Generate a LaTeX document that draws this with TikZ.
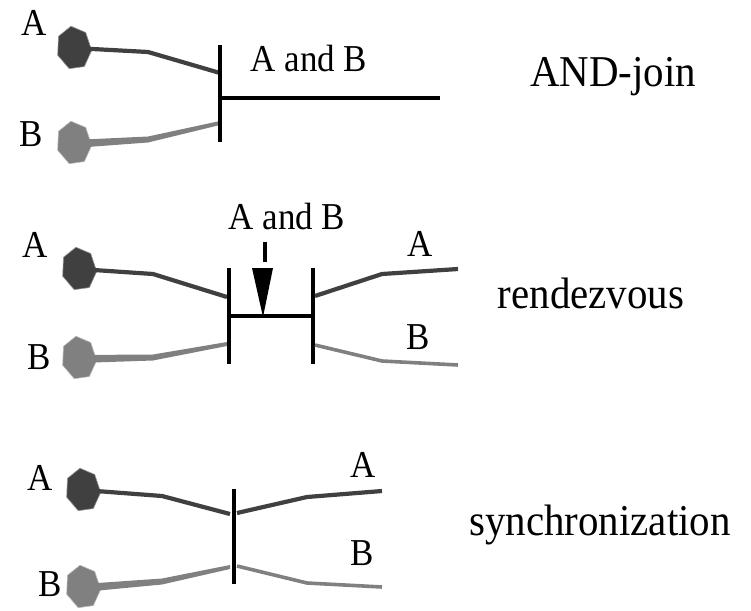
\documentclass[tikz,border=0pt]{standalone}
\usepackage{fontspec}
\setmainfont{Liberation Serif}
\newfontfamily\lblfont[FakeStretch=0.92]{Liberation Serif}
\newfontfamily\condfont[FakeStretch=0.93]{Liberation Serif}
\usetikzlibrary{shapes.geometric,calc}
\definecolor{da}{HTML}{404040}
\definecolor{db}{HTML}{808080}
\tikzset{
  lbl/.style={font=\lblfont\fontsize{38}{42}\selectfont, inner sep=0pt},
  ttl/.style={font=\condfont\fontsize{44}{48}\selectfont, inner sep=0pt, anchor=base},
  blobbase/.style={regular polygon, regular polygon sides=7, minimum size=44pt, inner sep=0pt, line width=0.6pt, rotate=8, xscale=0.8, transform shape},
  blobA/.style={blobbase, fill=da, draw=da!55!white},
  blobB/.style={blobbase, fill=db, draw=db!55!white},
  wireA/.style={draw=da, line width=4.2pt, line join=round},
  wireB/.style={draw=db, line width=3.6pt, line join=round},
  wedgeB/.style={fill=db},
  barline/.style={draw=black, line width=4.5pt},
}
\begin{document}
\begin{tikzpicture}[x=1pt,y=-1pt]
\useasboundingbox (0,0) rectangle (751,610);
% ---------- Panel 1: AND-join
\node[lbl] (lA1) at (34,23) {A};
\node[lbl] (lB1) at (31,134) {B};
\node[blobA] (bA1) at (74,48) {};
\node[blobB] (bB1) at (74,143) {};
\coordinate (a1b) at (148,52);
\coordinate (a1e) at (220,73);
\coordinate (b1b) at (148,139);
\coordinate (b1e) at (220,123);
\coordinate (bar1t) at (220,45);
\coordinate (bar1b) at (220,142);
\coordinate (bar1m) at (220,98);
\coordinate (bar1r) at (440,98);
\draw[wireA] (bA1.center) -- (a1b) -- (a1e);
\fill[wedgeB] ($(bB1.center)+(0,-3)$) -- ($(b1b)+(0,-2.5)$) -- ($(b1e)+(0,-2)$) -- ($(b1e)+(0,2)$) -- ($(b1b)+(0,3.5)$) -- ($(bB1.center)+(0,5)$) -- cycle;
\draw[barline] (bar1t) -- (bar1b);
\draw[barline] (bar1m) -- (bar1r);
\node[lbl] (and1) at (309,59) {A and B};
\node[ttl] (t1) at (613,86) {AND-join};
% ---------- Panel 2: rendezvous
\node[lbl] (lA2) at (35,245) {A};
\node[lbl] (lB2) at (39,357) {B};
\node[blobA] (bA2) at (79,269) {};
\node[blobB] (bB2) at (79,358) {};
\coordinate (a2b) at (153,274);
\coordinate (a2e) at (227,297);
\coordinate (b2b) at (153,357);
\coordinate (b2e) at (227,344);
\draw[wireA] (bA2.center) -- (a2b) -- (a2e);
\fill[wedgeB] ($(bB2.center)+(0,-3)$) -- ($(b2b)+(0,-2.5)$) -- ($(b2e)+(0,-2)$) -- ($(b2e)+(0,2)$) -- ($(b2b)+(0,3.5)$) -- ($(bB2.center)+(0,5)$) -- cycle;
\coordinate (bl2t) at (229,268);
\coordinate (bl2b) at (229,364);
\coordinate (br2t) at (313,268);
\coordinate (br2b) at (313,364);
\coordinate (h2l) at (229,316);
\coordinate (h2r) at (313,316);
\draw[barline] (bl2t) -- (bl2b);
\draw[barline] (br2t) -- (br2b);
\draw[barline] (h2l) -- (h2r);
\node[lbl] (and2) at (287,216) {A and B};
\coordinate (ar2t) at (265,242);
\coordinate (ar2m) at (265,262);
\coordinate (tri1) at (252,268);
\coordinate (tri2) at (273,268);
\coordinate (tri3) at (263,317);
\draw[draw=black, line width=4pt] (ar2t) -- (ar2m);
\fill[black] (tri1) -- (tri2) -- (tri3) -- cycle;
\coordinate (c2s) at (315,296);
\coordinate (c2b) at (382,274);
\coordinate (c2e) at (458,269);
\coordinate (d2s) at (315,345);
\coordinate (d2b) at (382,361);
\coordinate (d2e) at (458,365);
\draw[wireA] (c2s) -- (c2b) -- (c2e);
\draw[wireB] (d2s) -- (d2b) -- (d2e);
\node[lbl] (rA2) at (420,244) {A};
\node[lbl] (rB2) at (418,337) {B};
\node[ttl] (t2) at (591,308) {rendezvous};
% ---------- Panel 3: synchronization
\node[lbl] (lA3) at (40,478) {A};
\node[lbl] (lB3) at (50,584) {B};
\node[blobA] (bA3) at (83,490) {};
\node[blobB] (bB3) at (83,587) {};
\coordinate (a3b) at (162,496);
\coordinate (a3e) at (230,514);
\coordinate (b3b) at (162,581);
\coordinate (b3e) at (230,567);
\draw[wireA] (bA3.center) -- (a3b) -- (a3e);
\fill[wedgeB] ($(bB3.center)+(0,-3)$) -- ($(b3b)+(0,-2.5)$) -- ($(b3e)+(0,-2)$) -- ($(b3e)+(0,2)$) -- ($(b3b)+(0,3.5)$) -- ($(bB3.center)+(0,5)$) -- cycle;
\coordinate (bar3t) at (234,489);
\coordinate (bar3b) at (234,584);
\draw[barline] (bar3t) -- (bar3b);
\coordinate (c3s) at (237,513);
\coordinate (c3b) at (307,497);
\coordinate (c3e) at (382,491);
\coordinate (d3s) at (237,566);
\coordinate (d3b) at (307,583);
\coordinate (d3e) at (382,587);
\draw[wireA] (c3s) -- (c3b) -- (c3e);
\draw[wireB] (d3s) -- (d3b) -- (d3e);
\node[lbl] (rA3) at (363,465) {A};
\node[lbl] (rB3) at (362,553) {B};
\node[ttl] (t3) at (600,535) {synchronization};
\end{tikzpicture}
\end{document}
